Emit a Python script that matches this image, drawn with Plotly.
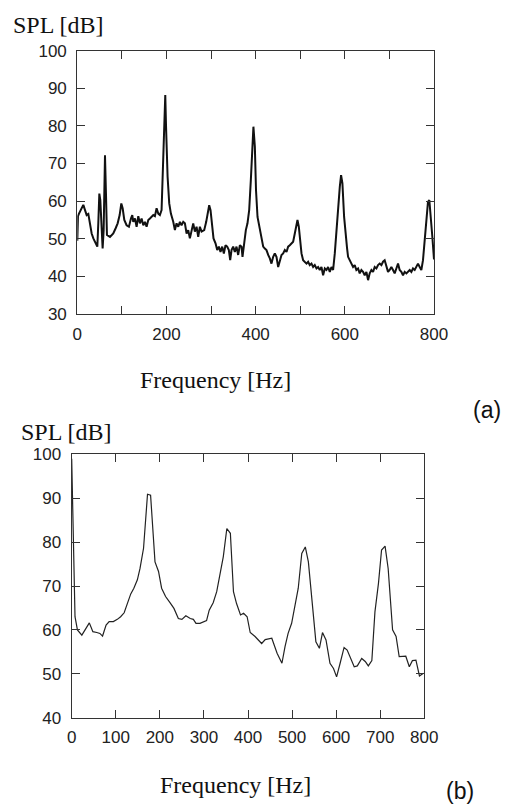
import plotly.graph_objects as go

W, H = 506, 806

# ---------------- data: (a) measured spectrum ----------------
freq_a = [0, 1.5, 3.8, 9.8, 13.5, 17.3, 21, 24.7, 28.5, 32.2, 36, 41.2, 44.9, 47.1, 49.4, 51.6,
          53.9, 56.8, 59.1, 62.1, 64.3, 66.5, 73.3, 80.7, 86, 90.5, 95, 98.7, 101.7, 105.4,
          110.6, 115.8, 120.3, 123.3, 125.5, 129.3, 133, 136.8, 140.5, 144.2, 148, 151.7,
          155.4, 159.2, 162.9, 166.6, 170.4, 174.1, 177.8, 181.6, 185.3, 189, 192, 195, 197.3,
          199, 202.5, 206.2, 209.9, 215.2, 218.9, 222.6, 226.4, 230.1, 233.8, 237.6, 241.3,
          245.1, 248.8, 252.5, 256.3, 260, 263.7, 267.5, 271.2, 274.9, 278.7, 284.6, 289.1,
          292.1, 295.8, 298.8, 301.8, 305.5, 310, 313.8, 317.5, 321.2, 325, 328.7, 332.4,
          336.2, 339.9, 342.9, 345.9, 349.6, 353.3, 357.1, 360.8, 364.6, 368.3, 370.5, 374.3,
          378, 381.7, 385.5, 389.2, 392.2, 395, 398.2, 400.8, 404.2, 407.9, 411.6, 416.9,
          420.6, 424.3, 428.1, 431.8, 435.5, 439.3, 443, 446.7, 450.5, 454.2, 458, 461.7,
          465.4, 469.2, 472.9, 476.6, 480.4, 484.1, 487.8, 490.8, 493.8, 496.8, 499.8, 502.8,
          506.5, 510.2, 514, 517.7, 521.4, 525.2, 528.9, 532.6, 536.4, 540.1, 543.8, 547.6,
          551.3, 555.1, 558.8, 562.5, 566.3, 570, 573.7, 577.5, 581.2, 584.9, 588.7, 591.6,
          594.6, 598.4, 602.1, 605, 607.3, 611, 614.7, 618.5, 622.2, 625.9, 629.7, 633.4,
          637.1, 640.9, 644.6, 648.4, 652.1, 655.8, 659.6, 663.3, 667, 670.8, 674.5, 678.2,
          682, 685.7, 689.4, 693.2, 696.9, 700.6, 704.4, 708.1, 711.8, 715.6, 719.3, 723,
          726.8, 730.5, 734.3, 738, 741.7, 745.5, 749.2, 752.9, 756.7, 760.4, 764.1, 767.9,
          771.6, 775.3, 779.1, 782.8, 786.5, 789.5, 792.5, 796.3, 800]
spl_a = [49.5, 56.0, 56.7, 58.1, 59.0, 57.6, 56.3, 56.6, 54.1, 51.4, 50.1, 48.8, 47.9, 54.1, 62.0, 60.3,
         52.3, 47.4, 52.3, 72.2, 62.0, 51.0, 50.5, 51.4, 52.8, 54.1, 56.3, 59.4, 58.1, 55.0,
         53.6, 53.2, 55.4, 56.3, 54.5, 55.4, 53.2, 56.0, 54.1, 55.4, 53.6, 54.5,
         53.2, 55.0, 55.4, 55.8, 56.3, 56.0, 58.1, 56.7, 56.3, 57.6, 67.4, 80.6, 88.2,
         80.0, 66.5, 59.4, 56.7, 54.5, 52.3, 54.1, 53.2, 54.5, 53.6, 54.5, 54.1,
         51.4, 52.3, 50.1, 52.3, 54.1, 51.9, 53.2, 50.5, 53.2, 51.9, 52.3, 54.5,
         56.7, 58.9, 57.6, 53.2, 50.1, 48.8, 47.0, 47.9, 46.5, 47.9, 46.1, 48.3,
         47.9, 47.0, 44.3, 47.0, 47.9, 46.5, 47.9, 45.7, 48.3, 47.9, 45.2, 48.8,
         52.3, 54.1, 57.6, 65.6, 73.6, 79.8, 74.5, 62.9, 55.8, 53.2, 50.5, 47.9,
         47.4, 47.0, 45.7, 44.8, 43.4, 45.2, 46.1, 45.2, 42.5, 44.3, 45.7, 46.1,
         47.0, 46.5, 47.9, 48.3, 48.8, 49.2, 51.4, 53.2, 55.0, 53.2, 49.6, 46.1,
         44.3, 43.9, 43.4, 43.9, 43.0, 43.4, 42.5, 43.0, 42.1, 42.5, 41.7, 42.5,
         40.3, 42.1, 41.7, 42.5, 41.2, 42.5, 41.7, 46.1, 52.3, 58.5, 63.8, 66.9,
         64.7, 55.8, 49.6, 47.5, 45.2, 44.3, 43.4, 42.5, 43.0, 41.7, 42.1, 40.8,
         41.7, 41.2, 40.3, 41.2, 39.0, 40.8, 41.7, 41.2, 42.5, 42.1, 43.0, 43.4,
         43.0, 43.9, 44.3, 43.0, 41.2, 41.7, 42.5, 41.7, 40.8, 42.1, 43.4, 41.7,
         41.2, 40.3, 41.2, 40.8, 41.2, 41.7, 41.2, 42.1, 41.7, 42.5, 43.4, 42.5,
         41.7, 44.3, 49.6, 55.8, 59.8, 60.3, 56.7, 50.5, 44.5]

# ---------------- data: (b) computed spectrum ----------------
freq_b = [0, 7.5, 13, 23, 40, 48, 57, 64, 70, 78, 85, 94.5, 103.5, 111, 119, 126, 134, 141, 149,
          155, 163, 172, 179, 189, 197, 204, 213, 223, 232, 242, 250, 259, 269, 276, 282, 291,
          300, 306, 312, 321, 329, 336, 344, 352, 360, 367, 374, 383, 390, 398, 405, 416, 431,
          439, 454, 466, 477, 484, 491, 499, 507, 514, 522, 530, 537, 547, 554, 562, 569, 577,
          586, 594, 601, 609, 618, 625, 633, 641, 648, 658, 666, 673, 681, 688, 696, 703, 711,
          718, 728, 736, 743, 752, 758, 766, 773, 781, 789, 798]
spl_b = [99.0, 63.0, 60.0, 58.8, 61.6, 59.6, 59.4, 59.2, 58.6, 61.1, 61.9, 61.9, 62.4, 63.0, 63.9,
         66.0, 68.2, 69.5, 71.4, 74.0, 78.6, 90.9, 90.7, 75.5, 73.3, 69.5, 67.6, 66.2, 64.9, 62.6,
         62.4, 63.2, 62.6, 62.4, 61.5, 61.5, 61.9, 62.1, 64.5, 66.2, 68.7, 72.1, 76.7, 83.1, 82.0,
         68.7, 66.0, 63.4, 63.8, 63.0, 59.4, 58.5, 56.9, 57.8, 58.1, 54.7, 52.4, 56.2, 59.2, 61.5,
         65.7, 69.5, 77.4, 78.9, 75.5, 63.8, 57.3, 55.8, 59.4, 57.7, 52.4, 51.2, 49.3, 52.4, 56.0,
         55.4, 53.5, 51.6, 51.8, 53.5, 52.8, 51.8, 53.0, 64.1, 70.6, 78.2, 79.1, 74.0, 60.0, 58.5,
         53.9, 53.9, 54.0, 51.6, 53.0, 53.1, 49.5, 50.1]

x_ticks = [0, 100, 200, 300, 400, 500, 600, 700, 800]
x_text_a = ["0", "", "200", "", "400", "", "600", "", "800"]
x_text_b = ["0", "100", "200", "300", "400", "500", "600", "700", "800"]
y_ticks_a = [30, 40, 50, 60, 70, 80, 90, 100]
y_ticks_b = [40, 50, 60, 70, 80, 90, 100]

y_title = "SPL [dB]"
x_title = "Frequency [Hz]"
panel_labels = ["(a)", "(b)"]


def px(x):
    return x / W


def py(y):
    return 1 - y / H


fig = go.Figure()
fig.add_trace(go.Scatter(x=freq_a, y=spl_a, mode="lines", line=dict(color="#111111", width=2.0),
                         xaxis="x", yaxis="y", showlegend=False))
fig.add_trace(go.Scatter(x=freq_b, y=spl_b, mode="lines", line=dict(color="#222222", width=1.2),
                         xaxis="x2", yaxis="y2", showlegend=False))

tick_font = dict(family="Liberation Sans, Arial, sans-serif", size=17, color="#222222")
ax_common = dict(showline=True, linecolor="#333333", linewidth=1.2, mirror="ticks",
                 ticks="inside", ticklen=8, tickwidth=1.2, tickcolor="#333333",
                 showgrid=False, zeroline=False, tickfont=tick_font, fixedrange=True,
                 automargin=False)

fig.update_layout(
    template="none",
    width=W, height=H,
    margin=dict(l=0, r=0, t=0, b=0, pad=0),
    paper_bgcolor="white", plot_bgcolor="white",
    xaxis=dict(domain=[px(77.3), px(434)], anchor="y", range=[0, 800],
               tickmode="array", tickvals=x_ticks, ticktext=x_text_a, ticklabelstandoff=4,
               **ax_common),
    yaxis=dict(domain=[py(314), py(50.7)], anchor="x", range=[30, 100],
               tickmode="array", tickvals=y_ticks_a, ticklabelstandoff=6, **ax_common),
    xaxis2=dict(domain=[px(71.7), px(424.3)], anchor="y2", range=[0, 800],
                tickmode="array", tickvals=x_ticks, ticktext=x_text_b, ticklabelstandoff=4,
                **ax_common),
    yaxis2=dict(domain=[py(717.7), py(454.3)], anchor="x2", range=[40, 100],
                tickmode="array", tickvals=y_ticks_b, ticklabelstandoff=6, **ax_common),
)

serif = dict(family="Liberation Serif, Times New Roman, serif", size=24, color="#111111")
sans_lab = dict(family="Liberation Sans, Arial, sans-serif", size=23, color="#111111")

annots = [
    dict(text=y_title, x=px(11), y=py(25), xanchor="left", yanchor="middle", font=serif),
    dict(text=x_title, x=px(215), y=py(380), xanchor="center", yanchor="middle", font=serif),
    dict(text=panel_labels[0], x=px(486.5), y=py(410.5), xanchor="center", yanchor="middle", font=sans_lab),
    dict(text=y_title, x=px(19), y=py(432), xanchor="left", yanchor="middle", font=serif),
    dict(text=x_title, x=px(235), y=py(785), xanchor="center", yanchor="middle", font=serif),
    dict(text=panel_labels[1], x=px(460), y=py(791), xanchor="center", yanchor="middle", font=sans_lab),
]
for a in annots:
    fig.add_annotation(xref="paper", yref="paper", showarrow=False, **a)

fig.write_html(
    "out.html",
    config={"displayModeBar": False, "responsive": False},
    post_script="document.body.style.margin='0';document.body.style.overflow='hidden';",
)
